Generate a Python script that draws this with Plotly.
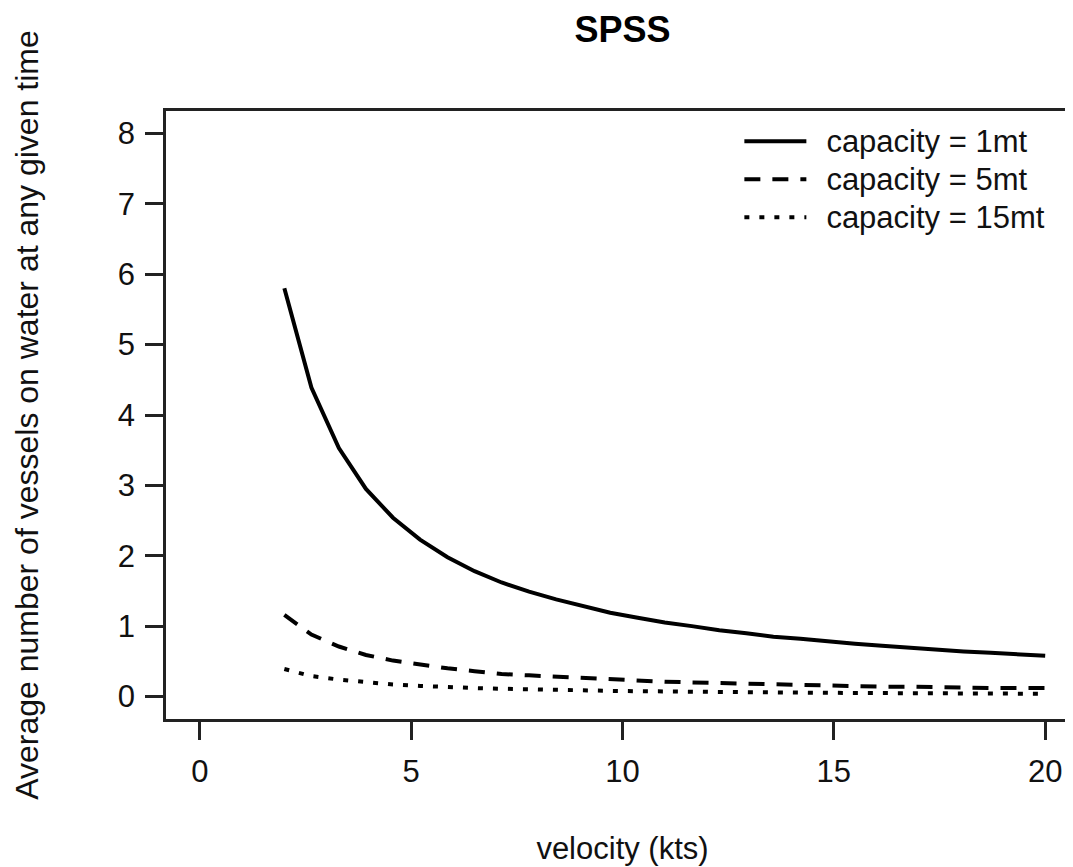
#!/usr/bin/env python
# coding: utf-8

# # SPSS: vessels on water vs. velocity

import plotly.graph_objects as go

# ## 1. Data
velocity_kts = [2.00, 2.64, 3.29, 3.93, 4.57, 5.21, 5.86, 6.50, 7.14, 7.79,
                8.43, 9.07, 9.71, 10.36, 11.00, 11.64, 12.29, 12.93, 13.57, 14.21,
                14.86, 15.50, 16.14, 16.79, 17.43, 18.07, 18.71, 19.36, 20.00]

vessels_1mt = [5.80, 4.39, 3.53, 2.95, 2.54, 2.23, 1.98, 1.78, 1.62, 1.49,
               1.38, 1.28, 1.19, 1.12, 1.05, 1.00, 0.94, 0.90, 0.85, 0.82,
               0.78, 0.75, 0.72, 0.69, 0.67, 0.64, 0.62, 0.60, 0.58]

vessels_5mt = [1.16, 0.88, 0.71, 0.59, 0.51, 0.45, 0.40, 0.36, 0.32, 0.30,
               0.28, 0.26, 0.24, 0.22, 0.21, 0.20, 0.19, 0.18, 0.17, 0.16,
               0.16, 0.15, 0.14, 0.14, 0.13, 0.13, 0.12, 0.12, 0.12]

vessels_15mt = [0.39, 0.29, 0.24, 0.20, 0.17, 0.15, 0.13, 0.12, 0.11, 0.10,
                0.09, 0.085, 0.08, 0.075, 0.07, 0.066, 0.063, 0.06, 0.057, 0.054,
                0.052, 0.05, 0.048, 0.046, 0.044, 0.043, 0.041, 0.04, 0.039]

x_ticks = [0, 5, 10, 15, 20]
y_ticks = [0, 1, 2, 3, 4, 5, 6, 7, 8]

# ## 2. Style
FONT = "Liberation Sans, Arial, sans-serif"
FS = 31          # Schriftgroesse fuer Achsen und Legende
INK = "#111111"
AXIS_INK = "#222222"

series = [
    ("capacity = 1mt", vessels_1mt, "solid"),
    ("capacity = 5mt", vessels_5mt, "16px,12px"),
    ("capacity = 15mt", vessels_15mt, "5px,10px"),
]

# ## 3. Figure
fig = go.Figure()
for name, values, dash in series:
    # Legendentext etwas vom Linienmuster abruecken (wie in R)
    label = f'&nbsp;&nbsp;<span style="font-size:{FS}px">{name}</span>'
    fig.add_trace(go.Scatter(
        x=velocity_kts, y=values, name=label, mode="lines",
        line=dict(color="black", width=4, dash=dash),
    ))

axis_common = dict(
    showgrid=False, zeroline=False,
    showline=True, linecolor=AXIS_INK, linewidth=2.5, mirror=True,
    ticks="outside", ticklen=18, tickwidth=2.5, tickcolor=AXIS_INK,
    tickfont=dict(family=FONT, size=FS, color=INK),
)

fig.update_xaxes(
    range=[-0.8, 20.8], tickvals=x_ticks, ticklabelstandoff=5,
    title=dict(text="velocity (kts)", font=dict(family=FONT, size=FS, color=INK), standoff=50),
    **axis_common,
)
fig.update_yaxes(
    range=[-0.32, 8.32], tickvals=y_ticks, ticklabelstandoff=4,
    title=dict(text="Average number of vessels on water at any given time",
               font=dict(family=FONT, size=FS + 1, color=INK), standoff=70),
    **axis_common,
)

fig.update_layout(
    width=1073, height=867,
    margin=dict(l=158, r=2, t=103, b=156, autoexpand=False),
    paper_bgcolor="white", plot_bgcolor="white",
    title=dict(text="<b>SPSS</b>", x=0.5, xref="paper", xanchor="center",
               y=1 - 21 / 867, yanchor="middle", yref="container",
               font=dict(family=FONT, size=36, color="black")),
    legend=dict(x=0.628, y=0.99, xanchor="left", yanchor="top",
                bgcolor="rgba(0,0,0,0)", borderwidth=0, itemwidth=62,
                font=dict(family=FONT, size=27, color=INK)),
    showlegend=True,
)

fig.write_html("out.html")
